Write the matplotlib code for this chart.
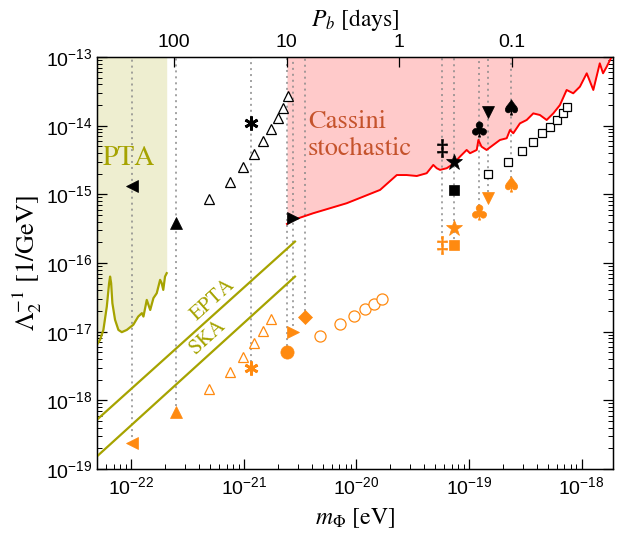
import numpy as np
import matplotlib
matplotlib.use('Agg')
import matplotlib.pyplot as plt
from matplotlib.textpath import TextPath
from matplotlib.font_manager import FontProperties
from matplotlib.path import Path
from matplotlib.ticker import NullLocator, LogLocator, NullFormatter

plt.rcParams['font.family'] = ['Liberation Sans', 'DejaVu Sans']

# ---------------- data ----------------
# PTA sensitivity curve
pta_m = [4.93e-23, 5.27e-23, 5.64e-23, 6.05e-23, 6.34e-23, 6.47e-23, 6.61e-23, 6.78e-23,
         7.16e-23, 7.67e-23, 8.22e-23, 9.10e-23, 1.04e-22, 1.15e-22, 1.24e-22, 1.28e-22,
         1.37e-22, 1.47e-22, 1.57e-22, 1.68e-22, 1.80e-22, 1.86e-22, 1.92e-22, 1.99e-22, 2.06e-22]
pta_lam = [6.43e-18, 7.60e-18, 1.06e-17, 2.32e-17, 5.08e-17, 6.34e-17, 5.08e-17, 2.60e-17,
           1.49e-17, 1.06e-17, 9.84e-18, 1.06e-17, 1.26e-17, 1.66e-17, 1.86e-17, 1.66e-17,
           2.90e-17, 2.07e-17, 3.08e-17, 3.63e-17, 5.68e-17, 5.08e-17, 4.06e-17, 6.34e-17, 7.11e-17]

# Cassini stochastic bound
cas_m = [2.41e-21, 2.75e-21, 4.13e-21, 5.82e-21, 8.18e-21, 1.15e-20, 1.62e-20, 2.28e-20,
         2.79e-20, 3.43e-20, 4.20e-20, 4.81e-20, 5.16e-20, 5.52e-20, 6.33e-20, 7.24e-20,
         8.30e-20, 9.52e-20, 1.02e-19, 1.17e-19, 1.21e-19, 1.29e-19, 1.43e-19, 1.64e-19,
         1.88e-19, 2.16e-19, 2.31e-19, 2.47e-19, 2.83e-19, 3.25e-19, 3.72e-19, 4.26e-19,
         4.89e-19, 5.60e-19, 6.42e-19, 7.36e-19, 8.42e-19, 9.66e-19, 1.11e-18, 1.27e-18,
         1.45e-18, 1.55e-18, 1.67e-18, 1.85e-18]
cas_lam = [3.71e-16, 4.24e-16, 5.31e-16, 6.28e-16, 7.42e-16, 9.27e-16, 1.16e-15, 1.91e-15,
           1.91e-15, 1.85e-15, 2.03e-15, 2.68e-15, 2.40e-15, 2.27e-15, 2.40e-15, 2.77e-15,
           3.54e-15, 4.43e-15, 3.97e-15, 4.43e-15, 6.19e-15, 4.95e-15, 4.43e-15, 5.24e-15,
           6.19e-15, 6.56e-15, 8.65e-15, 7.75e-15, 1.08e-14, 1.21e-14, 1.51e-14, 1.43e-14,
           1.21e-14, 1.51e-14, 2.00e-14, 3.31e-14, 2.96e-14, 3.70e-14, 5.79e-14, 3.31e-14,
           8.09e-14, 5.79e-14, 7.22e-14, 1.01e-13]

# EPTA / SKA projected lines (end points)
epta_m = [4.93e-23, 2.84e-21]
epta_lam = [5.20e-19, 2.05e-16]
ska_m = [4.93e-23, 2.84e-21]
ska_lam = [1.52e-19, 6.34e-17]

# individual binary pulsars: black (upper) and orange (lower) values
psr_kind = ['tri_left', 'tri_up', 'asterisk', 'circle', 'tri_right', 'diamond',
            'ddagger', 'star', 'square', 'club', 'tri_down', 'spade']
psr_m = [1.02e-22, 2.49e-22, 1.16e-21, 2.39e-21, 2.73e-21, 3.49e-21,
         5.71e-20, 7.38e-20, 7.38e-20, 1.225e-19, 1.46e-19, 2.36e-19]
psr_black = [1.32e-15, 3.87e-16, 1.08e-14, None, 4.49e-16, None,
             4.69e-15, 2.99e-15, 1.16e-15, 8.87e-15, 1.60e-14, 1.89e-14]
psr_orange = [2.40e-19, 6.87e-19, 2.94e-18, 5.13e-18, 1.00e-17, 1.63e-17,
              1.83e-16, 3.21e-16, 1.83e-16, 5.48e-16, 8.77e-16, 1.42e-15]

# open-marker series
otri_m = [4.93e-22, 7.53e-22, 9.88e-22, 1.23e-21, 1.49e-21, 1.74e-21, 2.00e-21, 2.21e-21, 2.46e-21]
otri_black = [8.49e-16, 1.50e-15, 2.50e-15, 3.84e-15, 5.98e-15, 8.87e-15, 1.28e-14, 1.83e-14, 2.70e-14]
otri_orange_m = [4.93e-22, 7.53e-22, 9.88e-22, 1.23e-21, 1.49e-21, 1.74e-21]
otri_orange = [1.46e-18, 2.57e-18, 4.34e-18, 6.80e-18, 1.03e-17, 1.54e-17]
ocirc_m = [4.74e-21, 7.13e-21, 9.55e-21, 1.19e-20, 1.43e-20, 1.67e-20]
ocirc_orange = [8.77e-18, 1.29e-17, 1.68e-17, 2.13e-17, 2.56e-17, 3.03e-17]
osq_m = [1.48e-19, 2.23e-19, 2.96e-19, 3.72e-19, 4.47e-19, 5.22e-19, 6.00e-19, 6.78e-19, 7.45e-19]
osq_black = [1.96e-15, 2.99e-15, 4.33e-15, 5.85e-15, 7.75e-15, 9.66e-15, 1.21e-14, 1.55e-14, 1.89e-14]

pb_ticks = [100, 10, 1, 0.1]
pb_labels = ['100', '10', '1', '0.1']
x_ticks = [1e-22, 1e-21, 1e-20, 1e-19, 1e-18]
y_ticks = [1e-19, 1e-18, 1e-17, 1e-16, 1e-15, 1e-14, 1e-13]

HBAR = 6.582e-16   # eV s
DAY = 86400.0
PB_CONST = np.pi * HBAR / DAY   # m = PB_CONST / P_b[days]

# ---------------- style ----------------
ORANGE = '#ff8a10'
OLIVE = '#a6a300'
PTA_FILL = '#eeeed0'
PINK = '#ffcaca'
RED = '#ff0000'
CAS_TXT = '#c5532c'
XMIN, XMAX = 4.95e-23, 1.9e-18
YMIN, YMAX = 1e-19, 1e-13


def glyph_marker(ch, family):
    tp = TextPath((0, 0), ch, size=10, prop=FontProperties(family=family))
    ext = tp.get_extents()
    v = tp.vertices.copy()
    v -= [(ext.x0 + ext.x1) / 2, (ext.y0 + ext.y1) / 2]
    codes = tp.codes
    v[codes == Path.CLOSEPOLY] = 0.0
    return Path(v, codes)


club = glyph_marker('\u2663', 'DejaVu Sans')
spade = glyph_marker('\u2660', 'DejaVu Sans')
ddag = glyph_marker('\u2021', 'DejaVu Serif')

styles = {
    'tri_left': dict(marker='<', ms=8.5),
    'tri_up': dict(marker='^', ms=8.5),
    'asterisk': dict(marker=(6, 2, 0), ms=10, mew=2.0),
    'circle': dict(marker='o', ms=9.5),
    'tri_right': dict(marker='>', ms=8.5),
    'diamond': dict(marker='D', ms=6.8),
    'ddagger': dict(marker=ddag, ms=13),
    'star': dict(marker='*', ms=12),
    'square': dict(marker='s', ms=7),
    'club': dict(marker=club, ms=11),
    'tri_down': dict(marker='v', ms=8.5),
    'spade': dict(marker=spade, ms=11),
}

fig = plt.figure(figsize=(6.3, 5.33), dpi=100)
ax = fig.add_axes([97 / 630, 1 - 469 / 533, (613 - 97) / 630, (469 - 57) / 533])
ax.set_xscale('log')
ax.set_yscale('log')
ax.set_xlim(XMIN, XMAX)
ax.set_ylim(YMIN, YMAX)

# PTA region
ax.fill_between(pta_m, pta_lam, YMAX, color=PTA_FILL, lw=0, zorder=1)
ax.plot(pta_m, pta_lam, color=OLIVE, lw=1.6, zorder=3)

# Cassini region
ax.fill_between(cas_m, cas_lam, YMAX, color=PINK, lw=0, zorder=1)
ax.plot(cas_m, cas_lam, color=RED, lw=1.4, zorder=3)

# EPTA, SKA
ax.plot(epta_m, epta_lam, color=OLIVE, lw=1.6, zorder=3)
ax.plot(ska_m, ska_lam, color=OLIVE, lw=1.6, zorder=3)

# vertical dotted guide lines
seen = {}
for m, yo in zip(psr_m, psr_orange):
    seen[m] = min(yo, seen.get(m, np.inf))
for m, yo in seen.items():
    ax.vlines(m, yo, YMAX, colors='#8a8a8a', linestyles=(0, (1.3, 2.6)), lw=1.1, zorder=2)

# open markers
ax.plot(otri_m, otri_black, ls='none', marker='^', ms=7.5, mfc='white', mec='black', mew=0.9, zorder=5)
ax.plot(otri_orange_m, otri_orange, ls='none', marker='^', ms=7.5, mfc='white', mec=ORANGE, mew=0.9, zorder=5)
ax.plot(ocirc_m, ocirc_orange, ls='none', marker='o', ms=8, mfc='white', mec=ORANGE, mew=0.9, zorder=5)
ax.plot(osq_m, osq_black, ls='none', marker='s', ms=5.8, mfc='white', mec='black', mew=0.9, zorder=5)

# filled markers
for kind, m, yb, yo in zip(psr_kind, psr_m, psr_black, psr_orange):
    st = dict(styles[kind])
    mew = st.pop('mew', 0.5)
    if yb is not None:
        ax.plot([m], [yb], ls='none', color='black', mec='black', mew=mew, zorder=6, **st)
    ax.plot([m], [yo], ls='none', color=ORANGE, mec=ORANGE, mew=mew, zorder=6, **st)

# texts
serif = dict(fontfamily='STIXGeneral', math_fontfamily='stix')
ax.text(5.6e-23, 2.68e-15, 'PTA', color=OLIVE, fontsize=20, ha='left', va='baseline', zorder=7, **serif)
ax.text(3.71e-21, 9.27e-15, 'Cassini', color=CAS_TXT, fontsize=19, ha='left', va='baseline', zorder=7, **serif)
ax.text(3.71e-21, 3.75e-15, 'stochastic', color=CAS_TXT, fontsize=19, ha='left', va='baseline', zorder=7, **serif)

p1 = ax.transData.transform((epta_m[0], epta_lam[0]))
p2 = ax.transData.transform((epta_m[1], epta_lam[1]))
ang = np.degrees(np.arctan2(p2[1] - p1[1], p2[0] - p1[0]))
ax.text(5.32e-22, 2.9e-17, 'EPTA', color=OLIVE, fontsize=15, rotation=ang, rotation_mode='anchor',
        ha='center', va='center', zorder=7, **serif)
ax.text(4.7e-22, 8.13e-18, 'SKA', color=OLIVE, fontsize=15, rotation=ang, rotation_mode='anchor',
        ha='center', va='center', zorder=7, **serif)

# axes ticks
ax.set_xticks(x_ticks)
ax.set_yticks(y_ticks)
ax.xaxis.set_minor_locator(LogLocator(base=10, subs=np.arange(2, 10), numticks=50))
ax.yaxis.set_minor_locator(LogLocator(base=10, subs=np.arange(2, 10), numticks=50))
ax.xaxis.set_minor_formatter(NullFormatter())
ax.yaxis.set_minor_formatter(NullFormatter())
ax.tick_params(axis='both', which='major', direction='in', length=7, width=0.9, labelsize=14, pad=5)
ax.tick_params(axis='both', which='minor', direction='in', length=3.5, width=0.7)
ax.tick_params(axis='y', which='both', right=True)
ax.tick_params(axis='y', which='major', pad=3)

for sp in ax.spines.values():
    sp.set_linewidth(1.0)

ax.set_xlabel(r'$m_\Phi$ [eV]', fontsize=17, labelpad=6, **serif)
ax.set_ylabel(r'$\Lambda_2^{-1}$ [1/GeV]', fontsize=19, labelpad=2, **serif)

# top axis: orbital period
ax2 = ax.twiny()
ax2.set_xscale('log')
ax2.set_xlim(ax.get_xlim())
ax2.set_xticks([PB_CONST / p for p in pb_ticks])
ax2.set_xticklabels(pb_labels)
ax2.xaxis.set_minor_locator(NullLocator())
ax2.tick_params(axis='x', which='major', direction='in', length=7, width=0.9, labelsize=14, pad=4)
ax2.set_xlabel(r'$P_b$ [days]', fontsize=17, labelpad=6, **serif)

fig.savefig('out.png', dpi=100)
